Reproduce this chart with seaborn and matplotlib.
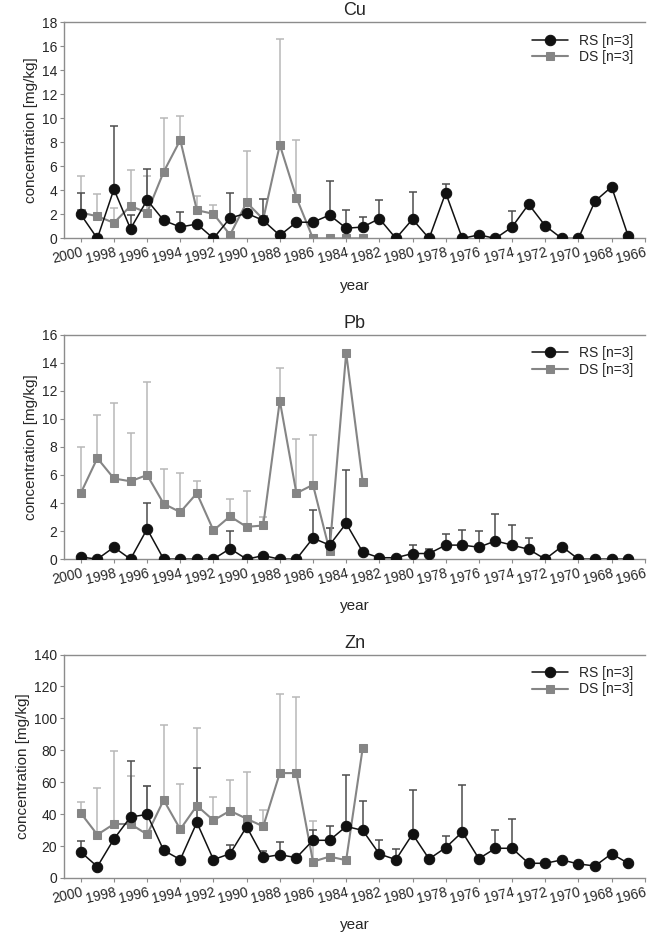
import numpy as np
import pandas as pd
import matplotlib
matplotlib.use("Agg")
import matplotlib.pyplot as plt
import seaborn as sns

# ---------------- data ----------------
rs_years = list(range(2000, 1966, -1))   # 2000 .. 1967
ds_years = list(range(2000, 1982, -1))   # 2000 .. 1983
nan = np.nan

cu_rs = [2.0, 0, 4.1, 0.8, 3.2, 1.5, 0.95, 1.2, 0, 1.7,
         2.1, 1.5, 0.25, 1.35, 1.35, 1.95, 0.85, 0.95, 1.65, 0,
         1.6, 0, 3.8, 0, 0.3, 0, 0.95, 2.85, 1.05, 0,
         0, 3.1, 4.3, 0.2]
cu_rs_err = [1.8, nan, 5.3, 1.15, 2.6, nan, 1.25, nan, nan, 2.1,
             nan, 1.8, nan, nan, nan, 2.8, 1.5, 0.8, 1.55, nan,
             2.25, nan, 0.75, nan, nan, nan, 1.3, nan, nan, nan,
             nan, nan, nan, nan]
cu_ds = [2.15, 1.85, 1.3, 2.7, 2.15, 5.55, 8.2, 2.35, 2.05, 0.3,
         3.0, 1.6, 7.8, 3.4, 0, 0, 0, 0]
cu_ds_err = [3.05, 1.85, 1.2, 3.0, 3.05, 4.5, 2.0, 1.2, 0.7, nan,
             4.3, nan, 8.85, 4.8, nan, nan, nan, nan]

pb_rs = [0.15, 0, 0.85, 0, 2.15, 0, 0, 0, 0, 0.75,
         0, 0.25, 0, 0, 1.5, 1.0, 2.55, 0.5, 0.1, 0.1,
         0.4, 0.4, 1.0, 1.0, 0.85, 1.3, 1.0, 0.7, 0, 0.9,
         0, 0, 0, 0]
pb_rs_err = [nan, nan, nan, nan, 1.85, nan, nan, nan, nan, 1.25,
             nan, nan, nan, nan, 2.0, 1.2, 3.8, nan, nan, nan,
             0.6, 0.35, 0.8, 1.05, 1.15, 1.9, 1.4, 0.8, nan, nan,
             nan, nan, nan, nan]
pb_ds = [4.7, 7.2, 5.75, 5.55, 6.0, 3.95, 3.35, 4.7, 2.05, 3.05,
         2.3, 2.4, 11.3, 4.7, 5.3, 0.6, 14.7, 5.5]
pb_ds_err = [3.3, 3.05, 5.4, 3.45, 6.65, 2.45, 2.8, 0.9, nan, 1.25,
             2.55, 0.6, 2.3, 3.85, 3.55, 1.65, nan, nan]

zn_rs = [16.3, 7.1, 24.4, 38.2, 39.8, 17.3, 11.5, 34.8, 11.5, 15.2,
         32.1, 12.9, 14.6, 12.7, 23.6, 23.6, 32.3, 29.8, 15.0, 11.5,
         27.5, 11.9, 19.0, 28.8, 12.1, 18.6, 18.6, 9.2, 9.2, 11.3,
         8.8, 7.5, 15.2, 9.2]
zn_rs_err = [7.1, nan, nan, 34.8, 17.8, nan, nan, 33.8, nan, 5.2,
             nan, 3.8, 8.1, nan, 6.2, 8.7, 32.2, 18.4, 8.6, 6.7,
             27.4, nan, 7.5, 29.4, nan, 11.7, 18.5, nan, nan, nan,
             nan, nan, nan, nan]
zn_ds = [40.7, 27.1, 33.8, 33.8, 27.3, 48.8, 30.5, 45.3, 36.1, 42.1,
         37.1, 32.3, 65.7, 65.7, 10.2, 13.4, 11.1, 81.6]
zn_ds_err = [6.7, 29.2, 45.5, 29.8, 30.1, 47.0, 28.3, 48.6, 14.4, 19.4,
             29.0, 10.3, 49.3, 47.8, 25.5, nan, nan, nan]

panels = [
    ("Cu", cu_rs, cu_rs_err, cu_ds, cu_ds_err, 18, 2),
    ("Pb", pb_rs, pb_rs_err, pb_ds, pb_ds_err, 16, 2),
    ("Zn", zn_rs, zn_rs_err, zn_ds, zn_ds_err, 140, 20),
]

# ---------------- style ----------------
sns.set_style("white")
plt.rcParams["font.family"] = ["Liberation Sans", "DejaVu Sans"]

RS_COLOR = "#111111"
DS_COLOR = "#858585"
RS_ERR = "#4d4d4d"
DS_ERR = "#b8b8b8"
SPINE = "#8c8c8c"

fig = plt.figure(figsize=(6.48, 9.35), dpi=100)
boxes = [(0.099, 0.745, 0.896, 0.231),
         (0.099, 0.402, 0.896, 0.240),
         (0.099, 0.061, 0.896, 0.239)]

for (name, rs, rs_err, ds, ds_err, ymax, ystep), box in zip(panels, boxes):
    ax = fig.add_axes(box)

    # upper-only error bars
    ax.errorbar(ds_years, ds, yerr=[np.zeros(len(ds)), ds_err], fmt="none",
                ecolor=DS_ERR, elinewidth=1.1, capsize=3, capthick=1.1, zorder=1)
    ax.errorbar(rs_years, rs, yerr=[np.zeros(len(rs)), rs_err], fmt="none",
                ecolor=RS_ERR, elinewidth=1.1, capsize=3, capthick=1.1, zorder=2)

    df_ds = pd.DataFrame({"year": ds_years, "value": ds})
    df_rs = pd.DataFrame({"year": rs_years, "value": rs})
    sns.lineplot(data=df_ds, x="year", y="value", ax=ax, color=DS_COLOR,
                 marker="s", markersize=6, markeredgecolor=DS_COLOR,
                 linewidth=1.5, label="DS [n=3]", zorder=3)
    sns.lineplot(data=df_rs, x="year", y="value", ax=ax, color=RS_COLOR,
                 marker="o", markersize=7.5, markeredgecolor=RS_COLOR,
                 linewidth=1.1, label="RS [n=3]", zorder=4)

    ax.set_xlim(2001, 1966)
    ax.set_ylim(0, ymax)
    ax.set_yticks(np.arange(0, ymax + ystep, ystep))
    ax.set_xticks(np.arange(2000, 1965, -2))
    ax.set_xticklabels([str(y) for y in range(2000, 1965, -2)],
                       rotation=13, ha="right", rotation_mode="anchor")
    ax.tick_params(axis="x", direction="out", length=3, width=0.8,
                   color=SPINE, labelsize=10, pad=2)
    ax.tick_params(axis="y", direction="out", length=3, width=0.8,
                   color=SPINE, labelsize=10, pad=2)
    ax.tick_params(bottom=True, left=True)

    for side in ["left", "bottom", "top"]:
        ax.spines[side].set_color(SPINE)
        ax.spines[side].set_linewidth(1.0)
    ax.spines["right"].set_visible(False)

    ax.set_title(name, fontsize=13, pad=5)
    ax.set_xlabel("year", fontsize=11, labelpad=9)
    ax.set_ylabel("concentration [mg/kg]", fontsize=11, labelpad=3)

    handles, labels = ax.get_legend_handles_labels()
    order = [labels.index("RS [n=3]"), labels.index("DS [n=3]")]
    ax.legend([handles[i] for i in order], [labels[i] for i in order],
              loc="upper right", frameon=False, fontsize=10,
              handlelength=2.6, borderaxespad=0.4, labelspacing=0.2)

fig.savefig("out.png", dpi=100)
